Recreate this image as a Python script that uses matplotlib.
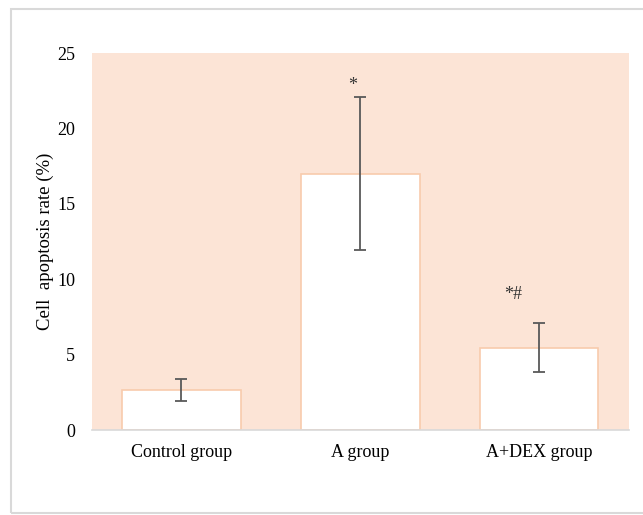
import matplotlib.pyplot as plt
from matplotlib.patches import Rectangle

groups = ["Control group", "A group", "A+DEX group"]
rates = [2.65, 17.0, 5.45]
errors = [0.75, 5.07, 1.63]
marks = ["", "*", "*#"]

plt.rcParams['font.family'] = ['Liberation Serif', 'DejaVu Serif']

fig = plt.figure(figsize=(6.43, 5.15), dpi=100)
ax = fig.add_axes([0.1431, 0.165, 0.835, 0.732])

# outer gray frame
fig.patches.append(Rectangle((11 / 643, 2 / 515), 640 / 643, 504 / 515,
                             transform=fig.transFigure, fill=False,
                             edgecolor='#d9d9d9', linewidth=1.5))

ax.set_facecolor('#fce4d6')
x = range(len(groups))
ax.bar(x, rates, width=0.66, color='white', edgecolor='#f8cbad', linewidth=1.2)
ax.errorbar(x, rates, yerr=errors, fmt='none', ecolor='#595959',
            elinewidth=1.3, capsize=4.5, capthick=1.3)

# significance marks sit a bit left of the bar centre, like the original
mark_dx = [0, -0.045, -0.145]
mark_dy = [0, 0.2, 1.35]
for xi, r, e, m, dx, dy in zip(x, rates, errors, marks, mark_dx, mark_dy):
    if m:
        ax.text(xi + dx, r + e + dy, m, ha='center', va='bottom',
                fontsize=13, color='#333333')

ax.set_xlim(-0.5, 2.5)
ax.set_ylim(0, 25)
ax.set_yticks([0, 5, 10, 15, 20, 25])
ax.set_xticks(list(x))
ax.set_xticklabels(groups)
ax.tick_params(axis='both', length=0, labelsize=13)
ax.tick_params(axis='y', pad=12)
ax.tick_params(axis='x', pad=10)
ax.set_ylabel("Cell  apoptosis rate (%)", fontsize=13.5, labelpad=2)

for s in ['top', 'right', 'left']:
    ax.spines[s].set_visible(False)
ax.spines['bottom'].set_color('#d9d9d9')
ax.spines['bottom'].set_linewidth(1.2)

plt.savefig("out.png", dpi=100)
